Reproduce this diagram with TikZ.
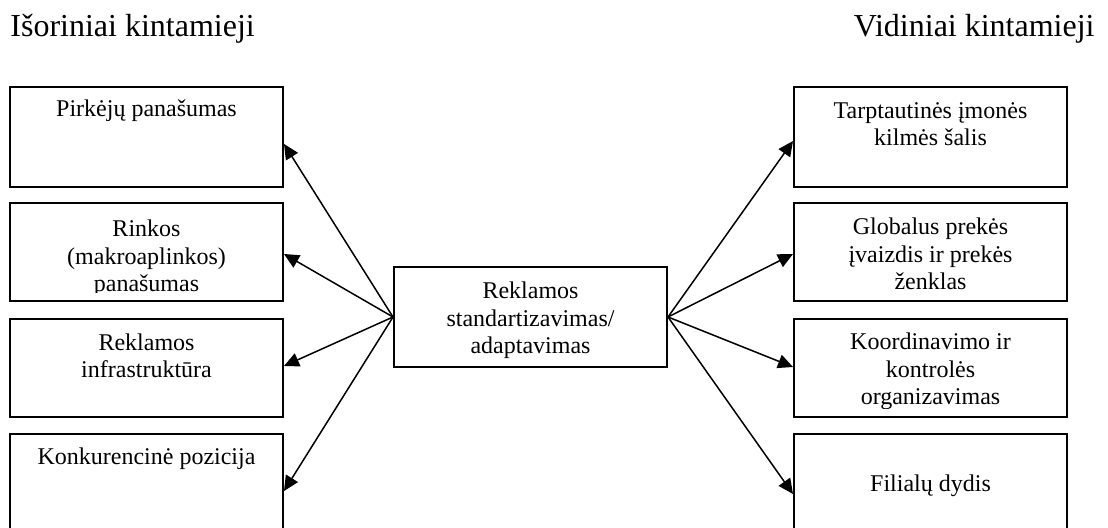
\documentclass[tikz,border=0pt]{standalone}
\usepackage{fontspec}
\setmainfont{Liberation Serif}
\usetikzlibrary{arrows.meta, positioning, calc}

\begin{document}
\begin{tikzpicture}[x=0.5pt, y=-0.5pt, font=\fontsize{12}{13.8}\selectfont,
    kbox/.style={draw, line width=1pt, minimum width=136.5pt, inner sep=0pt},
    ktext/.style={align=center, inner sep=0pt, anchor=base},
    antraste/.style={font=\fontsize{16}{18.4}\selectfont, inner sep=0pt},
    rodykle/.style={-{Triangle[length=7.5pt, width=7pt]}, line width=0.75pt}]
        \useasboundingbox (0,0) rectangle (1108,528);
        \clip (0,0) rectangle (1108,528);
        \node[antraste, anchor=base west] (isorines) at (10,37) {Išoriniai kintamieji};
        \node[antraste, anchor=base east] (vidines) at (1095,37) {Vidiniai kintamieji};
        \node[kbox, minimum height=50pt] (centras) at (530.5,317) {};
        \begin{scope}
            \clip (centras.north west) rectangle ([yshift=4.5pt]centras.south east);
            \node[ktext] (centrotxt) at ([yshift=-44pt]centras.north)
                {Reklamos\\standartizavimas/\\adaptavimas};
        \end{scope}
        \foreach \n/\y/\h/\off/\dy/\txt in {
            1/86/50pt/31/7/{Pirkėjų panašumas},
            2/202/49pt/90/2/{Rinkos\\(makroaplinkos)\\panašumas},
            3/318/49pt/60/-2/{Reklamos\\infrastruktūra},
            4/433/58pt/32/-1/{Konkurencinė pozicija}}
        {
            \node[kbox, minimum height=\h, anchor=north] (isor\n) at (146.5,\y) {};
            \begin{scope}
                \clip (isor\n.north west) rectangle ([yshift=4.5pt]isor\n.south east);
                \node[ktext] (isortxt\n) at ([yshift=-\off*0.5pt]isor\n.north) {\txt};
            \end{scope}
            \draw[rodykle] (centras.west) -- ([yshift=-\dy*0.5pt]isor\n.east);
        }
        \foreach \n/\y/\h/\off/\dy/\txt in {
            1/86/50pt/60/4/{Tarptautinės įmonės\\kilmės šalis},
            2/202/49pt/88/2/{Globalus prekės\\įvaizdis ir prekės\\ženklas},
            3/318/49pt/87/-1/{Koordinavimo ir\\kontrolės\\organizavimas},
            4/433/58pt/59/2/{Filialų dydis}}
        {
            \node[kbox, minimum height=\h, anchor=north] (vid\n) at (930.5,\y) {};
            \begin{scope}
                \clip (vid\n.north west) rectangle ([yshift=4.5pt]vid\n.south east);
                \node[ktext] (vidtxt\n) at ([yshift=-\off*0.5pt]vid\n.north) {\txt};
            \end{scope}
            \draw[rodykle] (centras.east) -- ([yshift=-\dy*0.5pt]vid\n.west);
        }
    \end{tikzpicture}
\end{document}
